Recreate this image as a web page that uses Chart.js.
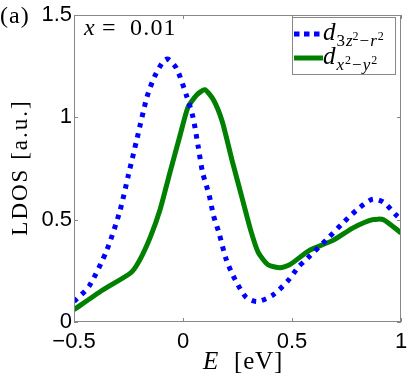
<!DOCTYPE html>
<html>
<head>
<meta charset="utf-8">
<script src="https://cdn.jsdelivr.net/npm/chart.js@4"></script>
<style>
  html, body { margin: 0; padding: 0; background: #fff; }
  #wrap { width: 407px; height: 378px; }
</style>
</head>
<body>
<div id="wrap"><canvas id="ldos" width="407" height="378"></canvas></div>
<script>
// Datos (a), x = 0.01
const energiaAzul = [-0.5, -0.43, -0.35, -0.29, -0.25, -0.21, -0.165, -0.13, -0.09, -0.07, -0.03, 0.018, 0.046, 0.07, 0.09, 0.12, 0.14, 0.165, 0.2, 0.24, 0.29, 0.34, 0.41, 0.48, 0.53, 0.57, 0.67, 0.73, 0.8, 0.87, 0.92, 0.98, 1.0];
const ldosAzul = [0.1, 0.176, 0.35, 0.54, 0.72, 0.9, 1.1, 1.2, 1.275, 1.285, 1.24, 1.1, 1.0, 0.855, 0.73, 0.62, 0.52, 0.435, 0.3, 0.205, 0.12, 0.1, 0.13, 0.2, 0.27, 0.31, 0.415, 0.48, 0.55, 0.6, 0.585, 0.52, 0.5];

const energiaVerde = [-0.5, -0.37, -0.24, -0.2, -0.15, -0.105, -0.06, -0.014, 0.023, 0.064, 0.1, 0.14, 0.18, 0.225, 0.27, 0.31, 0.345, 0.39, 0.445, 0.49, 0.58, 0.69, 0.78, 0.87, 0.92, 1.0];
const ldosVerde = [0.06, 0.155, 0.24, 0.3, 0.415, 0.55, 0.73, 0.91, 1.05, 1.11, 1.135, 1.085, 0.98, 0.79, 0.61, 0.45, 0.34, 0.28, 0.265, 0.28, 0.35, 0.4, 0.46, 0.5, 0.5, 0.435];

const ticksX = [-0.5, 0, 0.5, 1];
const ticksY = [0, 0.5, 1, 1.5];

const colorAzul = '#0000ff';
const colorVerde = '#008000';
const colorMarco = '#888888';
const fuenteSerif = '"Liberation Serif", "DejaVu Serif", serif';
const fuenteSans = '"Liberation Sans", Arial, sans-serif';

function puntos(xs, ys) {
    return xs.map((x, i) => ({ x: x, y: ys[i] }));
}

function formatoTick(v) {
    let s = String(Math.round(v * 100) / 100);
    return s.replace('-', '\u2212');
}

// Marco, marcas interiores y textos (estilo Matlab)
const decoracion = {
    id: 'decoracion',
    afterDraw(chart) {
        const ctx = chart.ctx;
        const a = chart.chartArea;
        const sx = chart.scales.x;
        const sy = chart.scales.y;
        ctx.save();

        // marco
        ctx.strokeStyle = colorMarco;
        ctx.lineWidth = 1;
        ctx.strokeRect(a.left + 0.5, a.top + 0.5, a.right - a.left - 1, a.bottom - a.top - 1);

        // marcas interiores
        ctx.beginPath();
        ticksX.forEach(v => {
            const px = Math.round(sx.getPixelForValue(v)) + 0.5;
            ctx.moveTo(px, a.bottom); ctx.lineTo(px, a.bottom - 4);
            ctx.moveTo(px, a.top); ctx.lineTo(px, a.top + 4);
        });
        ticksY.forEach(v => {
            const py = Math.round(sy.getPixelForValue(v)) + 0.5;
            ctx.moveTo(a.left, py); ctx.lineTo(a.left + 4, py);
            ctx.moveTo(a.right, py); ctx.lineTo(a.right - 4, py);
        });
        ctx.stroke();

        ctx.fillStyle = '#000';
        ctx.textBaseline = 'alphabetic';
        ctx.textAlign = 'left';

        function texto(t, x, y, size, italic, espacio) {
            ctx.letterSpacing = (espacio || 0) + 'px';
            ctx.font = (italic ? 'italic ' : '') + size + 'px ' + fuenteSerif;
            ctx.fillText(t, x, y);
            const w = ctx.measureText(t).width;
            ctx.letterSpacing = '0px';
            return x + w;
        }

        // (a)
        texto('(a)', 0, 23, 24, false, 1);

        // x = 0.01
        texto('x', 84, 35, 24, true);
        texto('=', 102, 35, 24, false);
        texto('0.01', 130, 35, 24, false, 1.2);

        // título eje y
        ctx.save();
        ctx.translate(27, (a.top + a.bottom) / 2);
        ctx.rotate(-Math.PI / 2);
        ctx.textAlign = 'center';
        ctx.letterSpacing = '2px';
        ctx.font = '23px ' + fuenteSerif;
        ctx.fillText('LDOS [a.u.]', 1, 0);
        ctx.letterSpacing = '0px';
        ctx.restore();

        // título eje x
        texto('E', 203, 369, 25, true);
        texto('[eV]', 234, 369, 25, false, 0.8);

        // leyenda
        ctx.fillStyle = '#fff';
        ctx.fillRect(292, 17, 104, 57);
        ctx.strokeStyle = colorMarco;
        ctx.strokeRect(292.5, 17.5, 103, 57);

        ctx.lineWidth = 5;
        ctx.lineCap = 'butt';
        ctx.strokeStyle = colorAzul;
        ctx.setLineDash([5.5, 4.5]);
        ctx.beginPath(); ctx.moveTo(294, 34); ctx.lineTo(323, 34); ctx.stroke();
        ctx.setLineDash([]);
        ctx.strokeStyle = colorVerde;
        ctx.beginPath(); ctx.moveTo(294, 58); ctx.lineTo(323, 58); ctx.stroke();

        ctx.fillStyle = '#000';
        let x = texto('d', 323, 40, 25, true);
        x = texto('3', x + 1, 46, 17, false);
        x = texto('z', x + 1, 46, 17, true);
        x = texto('2', x, 40, 12, false);
        x = texto('\u2212', x + 1, 46, 17, false);
        x = texto('r', x + 1, 46, 17, true);
        texto('2', x + 1, 40, 12, false);

        x = texto('d', 323, 64, 25, true);
        x = texto('x', x + 1, 70, 17, true);
        x = texto('2', x + 1, 64, 12, false);
        x = texto('\u2212', x + 1, 70, 17, false);
        x = texto('y', x + 1, 70, 17, true);
        texto('2', x + 1, 64, 12, false);

        ctx.restore();
    }
};

const ctx = document.getElementById('ldos').getContext('2d');
const grafico = new Chart(ctx, {
    type: 'line',
    data: {
        datasets: [
            {
                label: 'd3z2-r2',
                data: puntos(energiaAzul, ldosAzul),
                borderColor: colorAzul,
                borderWidth: 5,
                borderDash: [4.5, 6],
                borderCapStyle: 'butt',
                pointRadius: 0,
                tension: 0.25,
                fill: false
            },
            {
                label: 'dx2-y2',
                data: puntos(energiaVerde, ldosVerde),
                borderColor: colorVerde,
                borderWidth: 5,
                pointRadius: 0,
                tension: 0.2,
                fill: false
            }
        ]
    },
    options: {
        responsive: false,
        animation: false,
        devicePixelRatio: 1,
        layout: { padding: { left: 0, right: 6, top: 15, bottom: 0 } },
        plugins: {
            legend: { display: false },
            tooltip: { enabled: false }
        },
        scales: {
            x: {
                type: 'linear',
                min: -0.5,
                max: 1,
                afterFit: s => { s.height = 56; s.paddingLeft = 0; s.paddingRight = 0; },
                afterBuildTicks: s => { s.ticks = ticksX.map(v => ({ value: v })); },
                grid: { display: false, drawTicks: false },
                border: { display: false },
                ticks: {
                    padding: 7,
                    color: '#000',
                    font: { family: fuenteSans, size: 22 },
                    maxRotation: 0,
                    autoSkip: false,
                    callback: v => formatoTick(v)
                }
            },
            y: {
                min: 0,
                max: 1.5,
                afterFit: s => { s.width = 74; s.paddingTop = 0; s.paddingBottom = 0; },
                afterBuildTicks: s => { s.ticks = ticksY.map(v => ({ value: v })); },
                grid: { display: false, drawTicks: false },
                border: { display: false },
                ticks: {
                    padding: 2,
                    color: '#000',
                    font: { family: fuenteSans, size: 22 },
                    callback: v => formatoTick(v)
                }
            }
        }
    },
    plugins: [decoracion]
});
</script>
</body>
</html>
